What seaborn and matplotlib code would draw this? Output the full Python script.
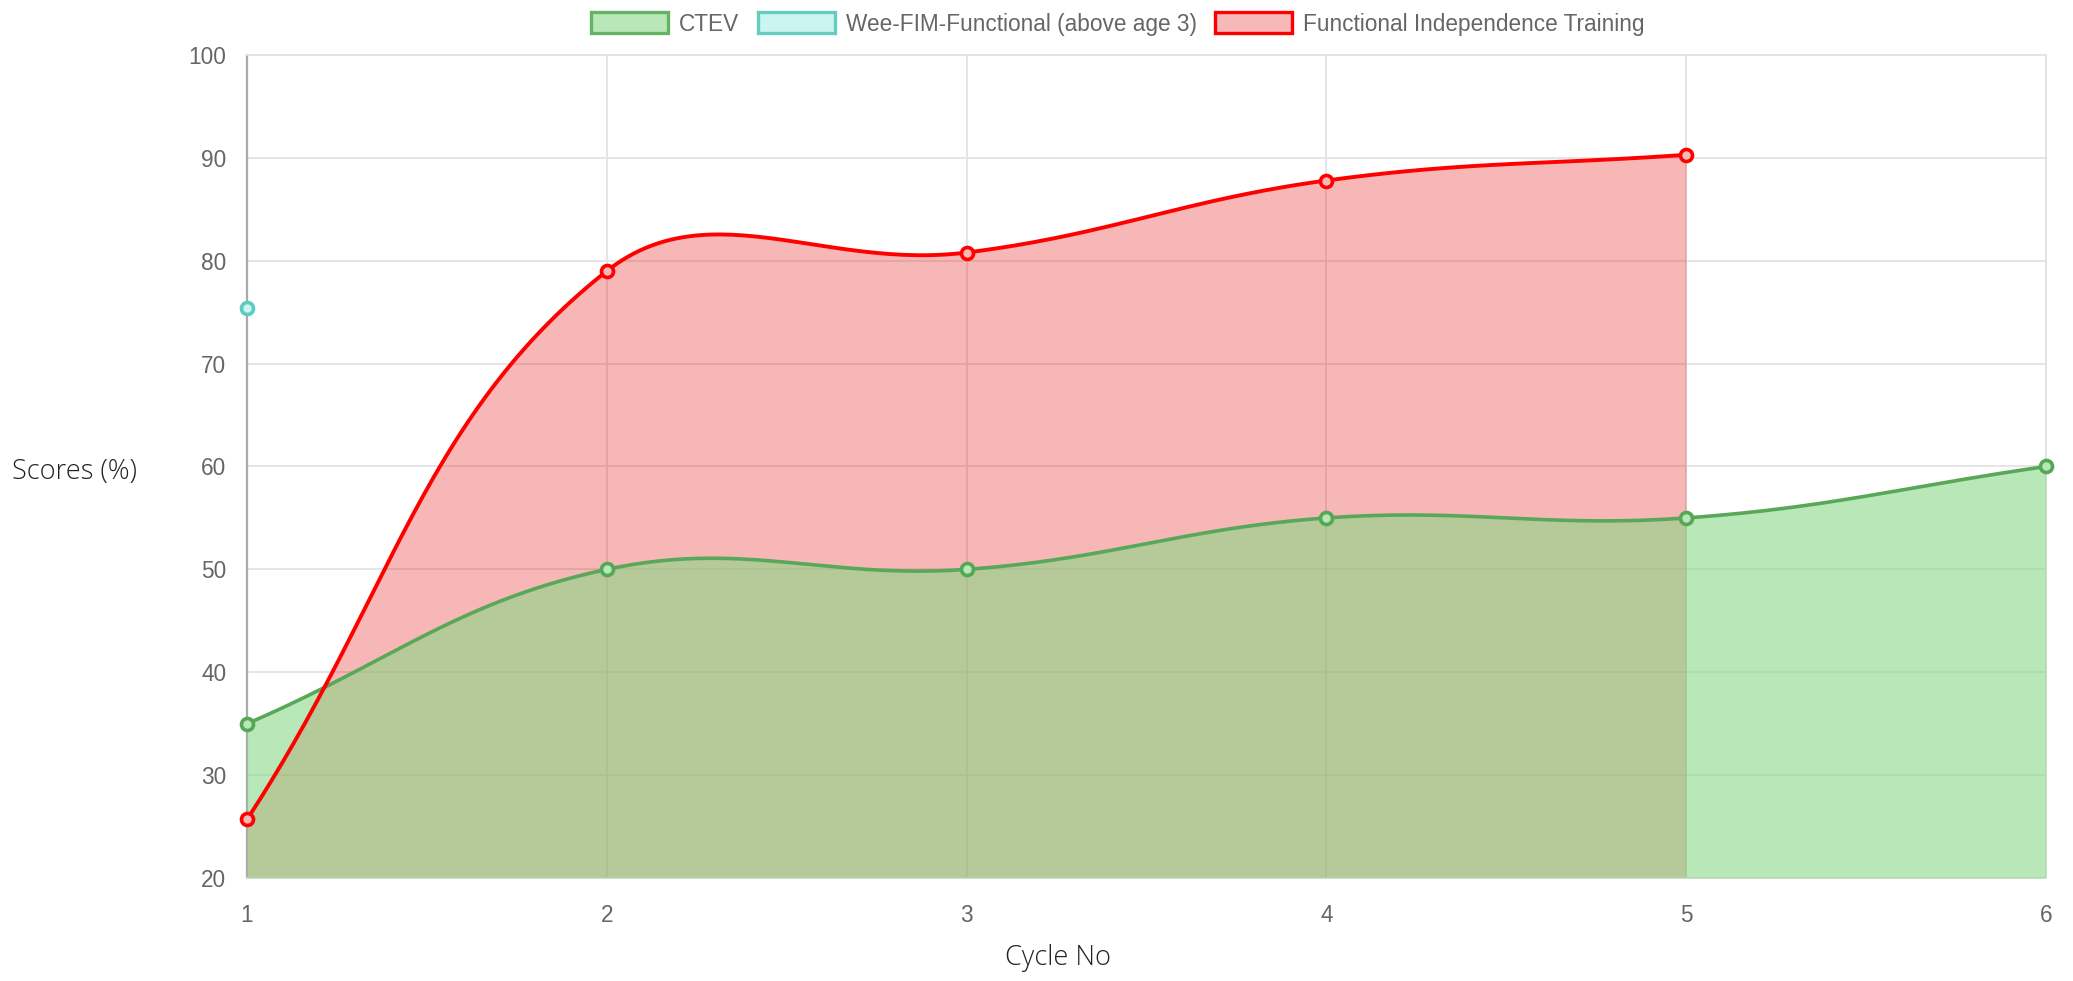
import numpy as np
import seaborn as sns
import matplotlib.pyplot as plt
from matplotlib.patches import Patch

# data
cycles = [1, 2, 3, 4, 5, 6]
ctev = [35, 50, 50, 55, 55, 60]
wee_cycles = [1]
wee_fim = [75.4]
fit_cycles = [1, 2, 3, 4, 5]
fit_scores = [25.7, 79.0, 80.8, 87.8, 90.3]

Y_MIN, Y_MAX = 20, 100


def chartjs_curve(xs, ys, sx, sy, tension=0.4, steps=60):
    """Bezier curve through the points, control points like Chart.js line tension."""
    pts = np.column_stack([np.asarray(xs, float) * sx, np.asarray(ys, float) * sy])
    n = len(pts)
    cp_prev = pts.copy()
    cp_next = pts.copy()
    for i in range(n):
        prev = pts[i - 1] if i > 0 else pts[i]
        nxt = pts[i + 1] if i < n - 1 else pts[i]
        d01 = np.hypot(*(pts[i] - prev))
        d12 = np.hypot(*(nxt - pts[i]))
        tot = d01 + d12
        s01 = d01 / tot if tot else 0
        s12 = d12 / tot if tot else 0
        cp_prev[i] = pts[i] - tension * s01 * (nxt - prev)
        cp_next[i] = pts[i] + tension * s12 * (nxt - prev)
    out = [pts[:1]]
    t = np.linspace(0, 1, steps)[1:, None]
    for i in range(n - 1):
        p0, p1, p2, p3 = pts[i], cp_next[i], cp_prev[i + 1], pts[i + 1]
        seg = ((1 - t) ** 3) * p0 + 3 * ((1 - t) ** 2) * t * p1 + 3 * (1 - t) * t ** 2 * p2 + t ** 3 * p3
        out.append(seg)
    curve = np.vstack(out)
    return curve[:, 0] / sx, curve[:, 1] / sy


sns.set_theme(style="white")
plt.rcParams["font.family"] = ["Liberation Sans", "DejaVu Sans"]

fig = plt.figure(figsize=(20.73, 9.81), dpi=100)
ax = fig.add_axes([247 / 2073, 1 - 878 / 981, (2046 - 247) / 2073, (878 - 55) / 981])

# pixel scales so the curve tension matches the on-screen geometry
sx, sy = 359.8, 10.29

green_line = (0.35, 0.66, 0.35)
green_fill = (131 / 255, 215 / 255, 131 / 255, 0.57)
red_fill = (232 / 255, 18 / 255, 18 / 255, 0.3)

rx, ry = chartjs_curve(fit_cycles, fit_scores, sx, sy)
gx, gy = chartjs_curve(cycles, ctev, sx, sy)

ax.fill_between(rx, ry, Y_MIN, color=red_fill, linewidth=0, zorder=2)
ax.fill_between(gx, gy, Y_MIN, color=green_fill, linewidth=0, zorder=3)

sns.lineplot(x=gx, y=gy, ax=ax, sort=False, estimator=None, color=green_line,
             linewidth=2.6, zorder=4)
sns.lineplot(x=rx, y=ry, ax=ax, sort=False, estimator=None, color="#ff0000",
             linewidth=2.8, zorder=5)

sns.scatterplot(x=cycles, y=ctev, ax=ax, s=75, facecolor=(0.72, 0.9, 0.72),
                edgecolor=(0.33, 0.66, 0.33), linewidth=2.6, zorder=6, clip_on=False)
sns.scatterplot(x=fit_cycles, y=fit_scores, ax=ax, s=75, facecolor=(0.97, 0.72, 0.72),
                edgecolor="#ff0000", linewidth=2.6, zorder=7, clip_on=False)
sns.scatterplot(x=wee_cycles, y=wee_fim, ax=ax, s=75, facecolor=(0.8, 0.96, 0.94),
                edgecolor=(0.36, 0.8, 0.75), linewidth=2.6, zorder=7, clip_on=False)

ax.set_xlim(1, 6)
ax.set_ylim(Y_MIN, Y_MAX)
ax.set_xticks(cycles)
ax.set_yticks(range(20, 101, 10))
ax.grid(True, color="#e3e3e3", linewidth=1.3, zorder=0)
ax.set_axisbelow(True)
for side in ["top", "right", "bottom"]:
    ax.spines[side].set_color("#e3e3e3")
    ax.spines[side].set_linewidth(1.3)
ax.spines["left"].set_color("#aaaaaa")
ax.spines["left"].set_linewidth(1.6)
ax.tick_params(axis="y", length=13, width=1.3, color="#e3e3e3", pad=2,
               labelsize=16.3, labelcolor="#666666")
ax.tick_params(axis="x", length=12, width=1.3, color="#e3e3e3", pad=7,
               labelsize=16.3, labelcolor="#666666")
ax.set_xlabel("")
ax.set_ylabel("")

fig.text(75 / 2073, 1 - 472 / 981, "Scores (%)", ha="center", va="center",
         fontsize=19.5, fontweight="light", family=["Open Sans", "DejaVu Sans"],
         color="#222222")
fig.text(1058 / 2073, 1 - 958 / 981, "Cycle No", ha="center", va="center",
         fontsize=19.5, fontweight="light", family=["Open Sans", "DejaVu Sans"],
         color="#222222")

handles = [
    Patch(facecolor=(0.72, 0.91, 0.72), edgecolor=(0.4, 0.7, 0.4), linewidth=2.4, label="CTEV"),
    Patch(facecolor=(0.8, 0.96, 0.94), edgecolor=(0.4, 0.8, 0.75), linewidth=2.4,
          label="Wee-FIM-Functional (above age 3)"),
    Patch(facecolor=(0.97, 0.72, 0.72), edgecolor="#ff0000", linewidth=2.4,
          label="Functional Independence Training"),
]
fig.legend(handles=handles, loc="center", bbox_to_anchor=(1118 / 2073, 1 - 24 / 981),
           ncol=3, frameon=False, fontsize=16.3, labelcolor="#666666",
           handlelength=3.4, handleheight=1.05, handletextpad=0.5, columnspacing=0.8)

plt.savefig("out.png", dpi=100)
